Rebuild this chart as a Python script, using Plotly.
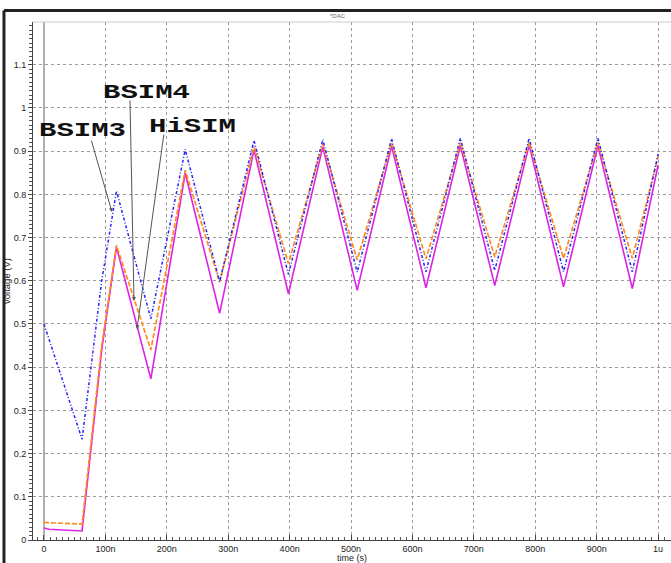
import plotly.graph_objects as go

# Transient response of the DAC output for three MOSFET models
time_ns = [0, 8, 62, 94, 118, 174, 230, 286, 342, 398, 454, 510, 566, 622,
           678, 734, 790, 846, 902, 958, 1000]
bsim3 = [0.500, 0.466, 0.233, 0.600, 0.808, 0.512, 0.904, 0.598, 0.925, 0.615,
         0.927, 0.620, 0.929, 0.621, 0.930, 0.624, 0.930, 0.621, 0.930, 0.621, 0.893]
bsim4 = [0.041, 0.040, 0.037, 0.450, 0.682, 0.440, 0.856, 0.597, 0.910, 0.640,
         0.917, 0.648, 0.919, 0.651, 0.920, 0.655, 0.920, 0.652, 0.920, 0.652, 0.887]
hisim = [0.028, 0.025, 0.021, 0.440, 0.678, 0.373, 0.849, 0.525, 0.903, 0.570,
         0.910, 0.578, 0.912, 0.584, 0.913, 0.589, 0.914, 0.586, 0.913, 0.582, 0.868]

x_tick_vals = [0, 100, 200, 300, 400, 500, 600, 700, 800, 900, 1000]
x_tick_text = ["0", "100n", "200n", "300n", "400n", "500n", "600n", "700n",
               "800n", "900n", "1u"]
y_tick_vals = [0, 0.1, 0.2, 0.3, 0.4, 0.5, 0.6, 0.7, 0.8, 0.9, 1.0, 1.1]
y_tick_text = ["0", "0.1", "0.2", "0.3", "0.4", "0.5", "0.6", "0.7", "0.8",
               "0.9", "1", "1.1"]

# Model labels: text position and where the pointer lands on its curve
labels = ["BSIM3", "BSIM4", "HiSIM"]
label_pos = [(62.7, 0.947), (166.9, 1.035), (241.9, 0.956)]
pointer_tail = [(76.5, 0.928), (140.0, 1.021), (195.4, 0.942)]
pointer_head = [(110.7, 0.759), (146.6, 0.553), (151.5, 0.488)]

fig = go.Figure()
fig.add_trace(go.Scatter(x=time_ns, y=hisim, mode="lines", name="HiSIM",
                         line=dict(color="#dd22e6", width=1.6)))
fig.add_trace(go.Scatter(x=time_ns, y=bsim4, mode="lines", name="BSIM4",
                         line=dict(color="#ff8c1a", width=1.7, dash="5px,2px")))
fig.add_trace(go.Scatter(x=time_ns, y=bsim3, mode="lines", name="BSIM3",
                         line=dict(color="#2424ff", width=1.5, dash="3px,2px,1px,2px")))

annotations = []
for (tx, ty), (hx, hy) in zip(pointer_tail, pointer_head):
    annotations.append(dict(x=hx, y=hy, ax=tx, ay=ty, xref="x", yref="y",
                            axref="x", ayref="y", text="", showarrow=True,
                            arrowhead=2, arrowsize=0.8, arrowwidth=1,
                            arrowcolor="#555555"))
for name, (lx, ly) in zip(labels, label_pos):
    annotations.append(dict(x=lx, y=ly, xref="x", yref="y", text="<b>%s</b>" % name,
                            showarrow=False, xanchor="center", yanchor="middle",
                            font=dict(family="Liberation Mono", size=21, color="#111111")))
annotations.append(dict(x=0.478, y=1.0, xref="paper", yref="paper", text="*DAC",
                        showarrow=False, yanchor="bottom", yshift=1,
                        font=dict(family="Liberation Sans", size=6, color="#666666")))

shapes = [
    # outer window frame (left and top edges)
    dict(type="line", xref="paper", yref="paper", x0=-0.0455, x1=-0.0455,
         y0=-0.1, y1=1.0222, line=dict(color="#222222", width=3)),
    dict(type="line", xref="paper", yref="paper", x0=-0.0455, x1=1.05,
         y0=1.0222, y1=1.0222, line=dict(color="#222222", width=3)),
    # light border along the top of the plot area
    dict(type="line", xref="paper", yref="paper", x0=0, x1=1, y0=1, y1=1,
         line=dict(color="#cccccc", width=1)),
]

fig.update_layout(
    width=671, height=563, autosize=False,
    margin=dict(l=33, r=0, t=22, b=23),
    paper_bgcolor="white", plot_bgcolor="white",
    showlegend=False,
    annotations=annotations,
    shapes=shapes,
    font=dict(family="Liberation Sans", size=9, color="#222222"),
)
fig.update_xaxes(
    range=[-17.9, 1021], tickmode="array", tickvals=x_tick_vals, ticktext=x_tick_text,
    showgrid=True, gridcolor="#9a9a9a", griddash="dot", gridwidth=1,
    zeroline=True, zerolinecolor="#b0b0b0", zerolinewidth=1.5,
    showline=True, linecolor="#444444", linewidth=1,
    ticks="inside", ticklen=5, tickcolor="#444444",
    minor=dict(dtick=10, tick0=0, ticks="inside", ticklen=3, tickcolor="#555555",
               showgrid=False),
    title=dict(text="time (s)", font=dict(size=9), standoff=2),
    tickfont=dict(size=9),
)
fig.update_yaxes(
    range=[0, 1.199], tickmode="array", tickvals=y_tick_vals, ticktext=y_tick_text,
    showgrid=True, gridcolor="#9a9a9a", griddash="dot", gridwidth=1,
    zeroline=False,
    showline=True, linecolor="#444444", linewidth=1,
    ticks="outside", ticklen=4, tickcolor="#444444",
    minor=dict(dtick=0.01, tick0=0, ticks="outside", ticklen=3, tickcolor="#555555",
               showgrid=False),
    title=dict(text="voltage (V)", font=dict(size=9.5), standoff=1),
    tickfont=dict(size=9),
)

# Widen the model labels horizontally around their own centres
label_css = """
var names = %s;
document.querySelectorAll('.annotation-text').forEach(function (t) {
    if (names.indexOf(t.textContent) >= 0) {
        t.style.transformBox = 'fill-box';
        t.style.transformOrigin = 'center';
        t.style.transform = 'scaleX(1.38)';
    }
});
""" % str(labels).replace("'", '"')

fig.write_html("out.html", post_script=label_css)
